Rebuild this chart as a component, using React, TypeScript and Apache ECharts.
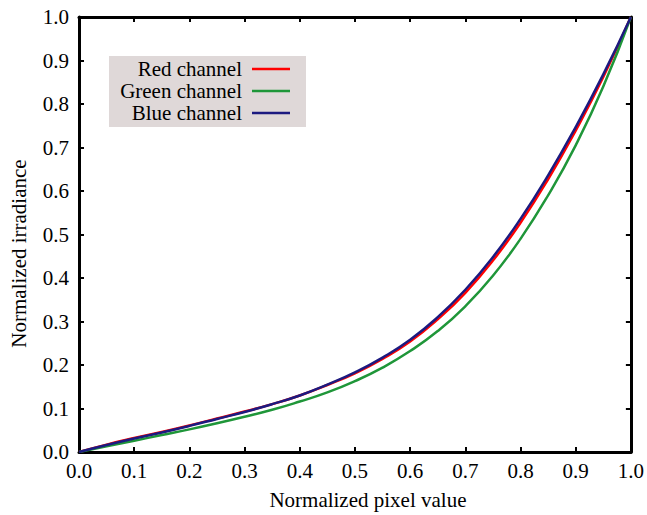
import React, { useEffect, useRef } from "react";
import * as echarts from "echarts";

const xs = [0, 0.05, 0.1, 0.15, 0.2, 0.25, 0.3, 0.35, 0.4, 0.45, 0.5, 0.55, 0.6, 0.65, 0.7, 0.75, 0.8, 0.85, 0.9, 0.95, 1.0];
const blueVals = [0, 0.016, 0.031, 0.045, 0.06, 0.076, 0.092, 0.11, 0.13, 0.155, 0.183, 0.217, 0.258, 0.31, 0.373, 0.448, 0.536, 0.636, 0.747, 0.868, 1.0];
const redVals = [0, 0.017, 0.032, 0.046, 0.061, 0.077, 0.093, 0.11, 0.13, 0.154, 0.181, 0.214, 0.254, 0.305, 0.366, 0.44, 0.527, 0.627, 0.739, 0.862, 1.0];
const greenVals = [0, 0.013, 0.026, 0.039, 0.052, 0.066, 0.081, 0.097, 0.116, 0.137, 0.163, 0.194, 0.232, 0.278, 0.335, 0.405, 0.49, 0.59, 0.705, 0.84, 1.0];
const tickLabels = ["0.0", "0.1", "0.2", "0.3", "0.4", "0.5", "0.6", "0.7", "0.8", "0.9", "1.0"];
const seriesNames = ["Red channel", "Green channel", "Blue channel"];

const FONT = "'Liberation Serif', 'Times New Roman', serif";

export default function App() {
  const ref = useRef<HTMLDivElement>(null);
  useEffect(() => {
    if (!ref.current) return;
    const chart = echarts.init(ref.current, null, { renderer: "svg" });
    const pair = (vals: number[]) => xs.map((x, i) => [x, vals[i]]);
    const lbl = (v: number) => tickLabels[Math.round(v * 10)] ?? "";
    const axisLine = { show: true, onZero: false, lineStyle: { color: "#000", width: 3 } };
    const axisTick = { show: true, inside: true, length: 5, lineStyle: { color: "#000", width: 2 } };
    const common = {
      type: "value" as const,
      min: 0,
      max: 1,
      interval: 0.1,
      splitLine: { show: false },
      axisLine,
      axisTick,
    };
    chart.setOption({
      animation: false,
      backgroundColor: "#fff",
      textStyle: { fontFamily: FONT },
      grid: { left: 72, right: 15, top: 17, bottom: 56, containLabel: false },
      legend: {
        orient: "vertical",
        left: 109,
        top: 56,
        align: "right",
        icon: "rect",
        backgroundColor: "#dfd8d8",
        padding: [2, 16, 3, 9],
        itemGap: 0,
        itemWidth: 38,
        itemHeight: 2.5,
        borderRadius: 0,
        textStyle: { fontFamily: FONT, fontSize: 21, lineHeight: 22, color: "#000", width: 124, align: "right", padding: [0, 5, 0, 0] },
        data: seriesNames,
      },
      xAxis: [
        {
          ...common,
          position: "bottom",
          name: "Normalized pixel value",
          nameLocation: "middle",
          nameGap: 37,
          nameTextStyle: { fontFamily: FONT, fontSize: 21, color: "#000", padding: [0, 0, 0, 26] },
          axisLabel: { formatter: lbl, fontFamily: FONT, fontSize: 21, color: "#000", margin: 8 },
        },
        { ...common, position: "top", axisLabel: { show: false } },
      ],
      yAxis: [
        {
          ...common,
          position: "left",
          name: "Normalized irradiance",
          nameLocation: "middle",
          nameGap: 50,
          nameTextStyle: { fontFamily: FONT, fontSize: 21, color: "#000", padding: [0, 38, 0, 0] },
          axisLabel: { formatter: lbl, fontFamily: FONT, fontSize: 21, color: "#000", margin: 10 },
        },
        { ...common, position: "right", axisLabel: { show: false } },
      ],
      series: [
        { name: seriesNames[0], type: "line", data: pair(redVals), smooth: true, symbol: "none", lineStyle: { color: "#ff0000", width: 2.5 }, itemStyle: { color: "#ff0000" } },
        { name: seriesNames[1], type: "line", data: pair(greenVals), smooth: true, symbol: "none", lineStyle: { color: "#1f9639", width: 2.5 }, itemStyle: { color: "#1f9639" } },
        { name: seriesNames[2], type: "line", data: pair(blueVals), smooth: true, symbol: "none", lineStyle: { color: "#1c1a80", width: 2.5 }, itemStyle: { color: "#1c1a80" } },
      ],
    });
    return () => chart.dispose();
  }, []);
  return <div ref={ref} style={{ width: 647, height: 515, position: "absolute", left: 0, top: 0 }} />;
}
